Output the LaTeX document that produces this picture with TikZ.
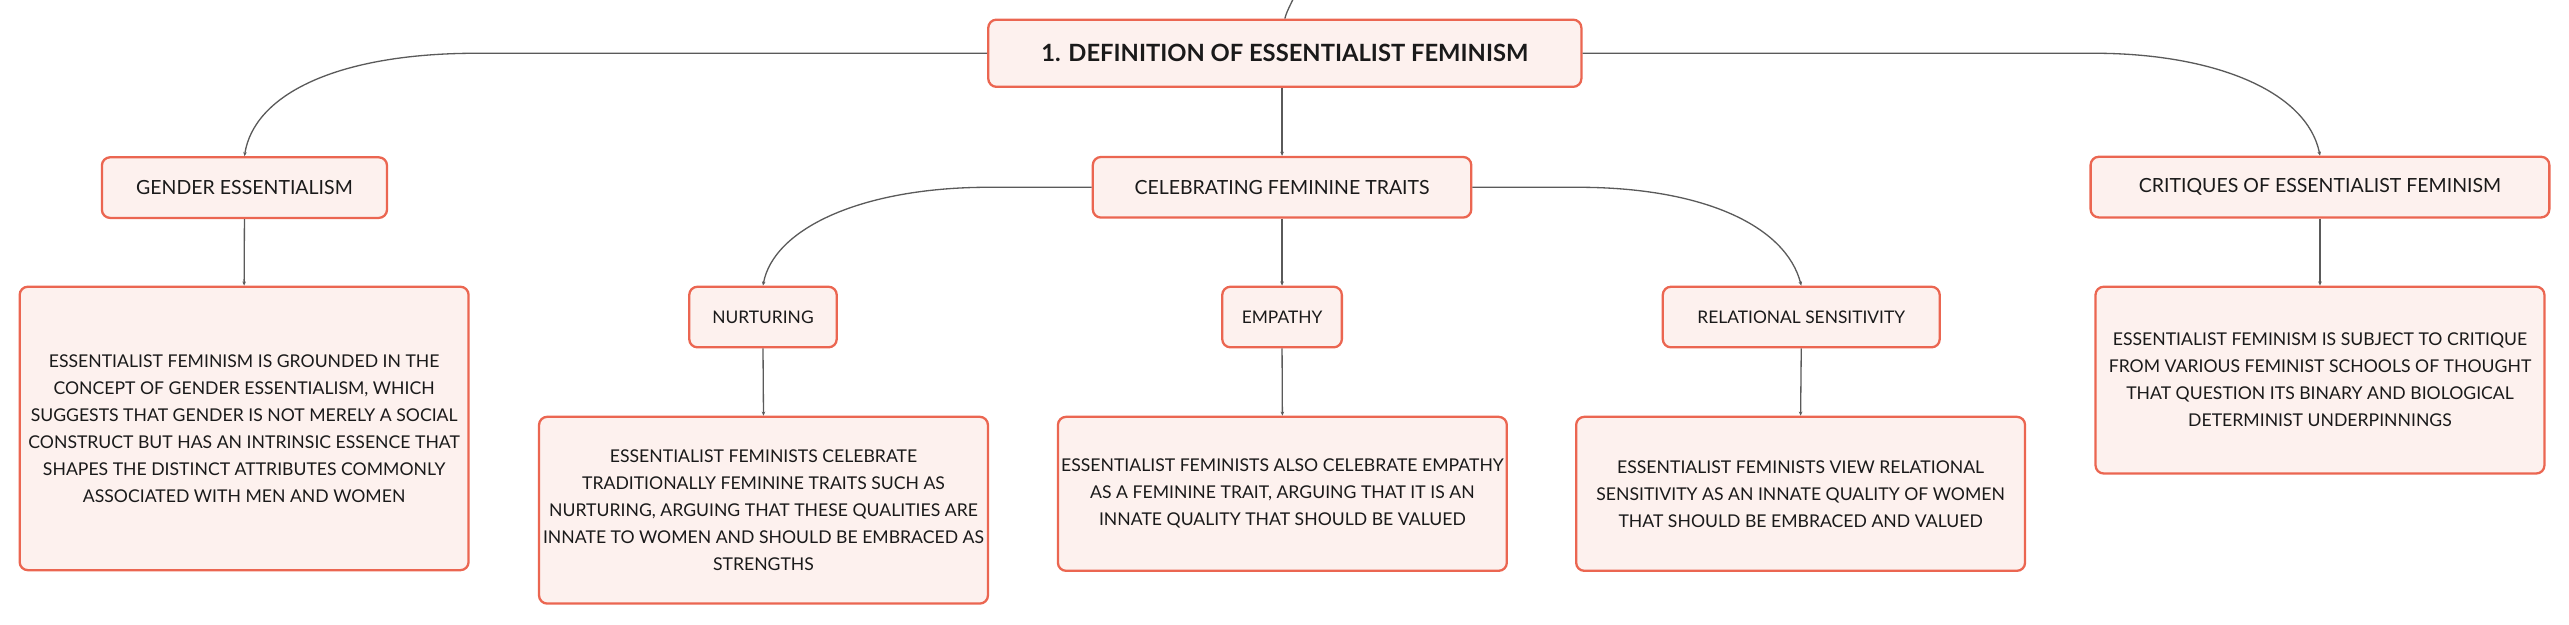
\documentclass[tikz,border=0pt]{standalone}
\usepackage{fontspec}
\setmainfont{Lato}
\usetikzlibrary{arrows.meta}
\definecolor{bordc}{HTML}{EB6651}
\definecolor{fillc}{HTML}{FDF1EE}
\definecolor{linec}{HTML}{5A5A5A}
\definecolor{txtc}{HTML}{1A1A1A}
\begin{document}
\begin{tikzpicture}[x=1pt,y=-1pt,
  box/.style={draw=bordc,fill=fillc,line width=1.4pt,rounded corners=5pt,
    text=txtc,align=center,inner sep=0pt,font=\fontsize{10.75}{16.5}\selectfont},
  midbox/.style={box,font=\fontsize{11.9}{14}\selectfont},
  smallbox/.style={box,font=\fontsize{10.6}{13}\selectfont},
  rootbox/.style={box,font=\fontsize{14.5}{17}\selectfont\bfseries},
  conn/.style={draw=linec,line width=0.8pt,-{Stealth[length=2.5pt,width=2.2pt]}}]
\useasboundingbox (0,0) rectangle (1568,380.9);
% nodes
\node[rootbox,minimum width=362pt,minimum height=41pt] (root) at (784.2,32.5) {1. DEFINITION OF ESSENTIALIST FEMINISM};
\node[midbox,minimum width=174pt,minimum height=37pt] (gender) at (149.2,114.5) {GENDER ESSENTIALISM};
\node[midbox,minimum width=231pt,minimum height=37pt] (celeb) at (782.5,114.3) {CELEBRATING FEMININE TRAITS};
\node[midbox,minimum width=280pt,minimum height=37pt] (crit) at (1416,114.2) {CRITIQUES OF ESSENTIALIST FEMINISM};
\node[smallbox,minimum width=90pt,minimum height=37pt] (nurt) at (465.7,193.5) {NURTURING};
\node[smallbox,minimum width=73pt,minimum height=37pt] (emp) at (782.5,193.5) {EMPATHY};
\node[smallbox,minimum width=169pt,minimum height=37pt] (rel) at (1099.4,193.5) {RELATIONAL SENSITIVITY};
\node[box,minimum width=274pt,minimum height=173pt] (genderleaf) at (149,261.5) {ESSENTIALIST FEMINISM IS GROUNDED IN THE\\CONCEPT OF GENDER ESSENTIALISM, WHICH\\SUGGESTS THAT GENDER IS NOT MERELY A SOCIAL\\CONSTRUCT BUT HAS AN INTRINSIC ESSENCE THAT\\SHAPES THE DISTINCT ATTRIBUTES COMMONLY\\ASSOCIATED WITH MEN AND WOMEN};
\node[box,minimum width=274pt,minimum height=114pt] (nurtleaf) at (466,311.4) {ESSENTIALIST FEMINISTS CELEBRATE\\TRADITIONALLY FEMININE TRAITS SUCH AS\\NURTURING, ARGUING THAT THESE QUALITIES ARE\\INNATE TO WOMEN AND SHOULD BE EMBRACED AS\\STRENGTHS};
\node[box,minimum width=274pt,minimum height=94pt] (empleaf) at (782.7,301.4) {ESSENTIALIST FEMINISTS ALSO CELEBRATE EMPATHY\\AS A FEMININE TRAIT, ARGUING THAT IT IS AN\\INNATE QUALITY THAT SHOULD BE VALUED};
\node[box,minimum width=274pt,minimum height=94pt] (relleaf) at (1099,301.4) {ESSENTIALIST FEMINISTS VIEW RELATIONAL\\SENSITIVITY AS AN INNATE QUALITY OF WOMEN\\THAT SHOULD BE EMBRACED AND VALUED};
\node[box,minimum width=274pt,minimum height=114pt] (critleaf) at (1416,232) {ESSENTIALIST FEMINISM IS SUBJECT TO CRITIQUE\\FROM VARIOUS FEMINIST SCHOOLS OF THOUGHT\\THAT QUESTION ITS BINARY AND BIOLOGICAL\\DETERMINIST UNDERPINNINGS};
% incoming connector from above
\coordinate (top) at (790,-2);
\draw[draw=linec,line width=0.8pt] (top) .. controls (787,4) and (785,8) .. (root.north);
% root connectors
\draw[conn] (root.west) -- (291,32.5) .. controls (205,32.5) and (155,58) .. (gender.north);
\draw[conn] (root.east) -- (1278,32.5) .. controls (1350,32.5) and (1408,55) .. (crit.north);
\draw[conn] (celeb.north |- root.south) -- (celeb.north);
% celebrating connectors
\draw[conn] (celeb.west) -- (603.6,114.3) .. controls (525,114.3) and (472,140) .. (nurt.north);
\draw[conn] (celeb.south) -- (emp.north);
\draw[conn] (celeb.east) -- (963,114.3) .. controls (1040,114.3) and (1090,138) .. (rel.north);
% leaves
\draw[conn] (gender.south) -- (genderleaf.north);
\draw[conn] (nurt.south) -- (nurtleaf.north);
\draw[conn] (emp.south) -- (empleaf.north);
\draw[conn] (rel.south) -- (relleaf.north);
\draw[conn] (crit.south) -- (critleaf.north);
\end{tikzpicture}
\end{document}
